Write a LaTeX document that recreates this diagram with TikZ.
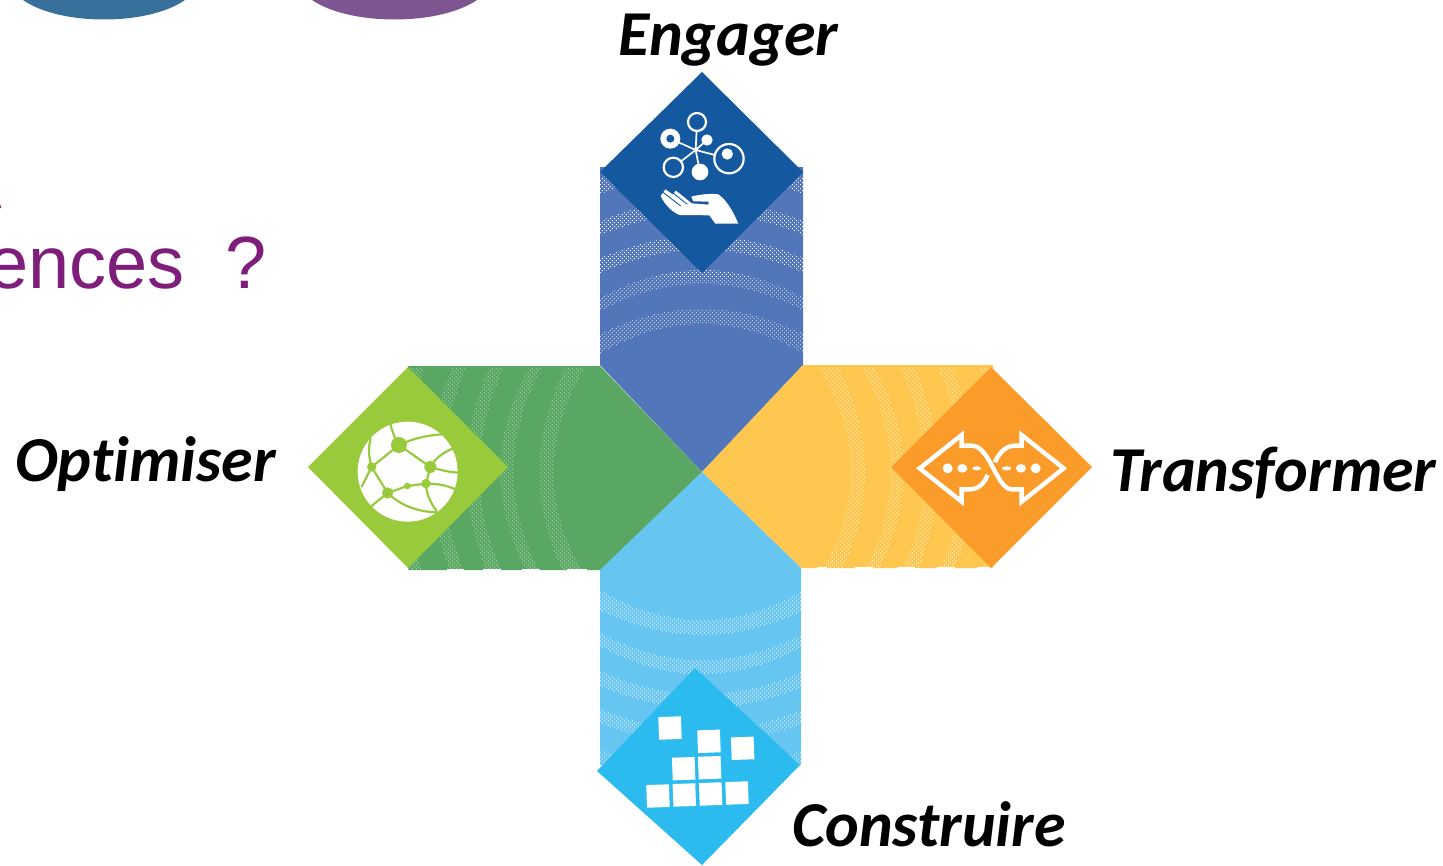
\documentclass[tikz,border=0pt]{standalone}
\usepackage{fontspec}
\setmainfont[Ligatures=NoCommon]{Carlito}
\newfontfamily\arialfont{Liberation Sans}
\usetikzlibrary{patterns.meta}
\definecolor{armBlue}{HTML}{5276BA}
\definecolor{armGreen}{HTML}{59A762}
\definecolor{armYellow}{HTML}{FFC750}
\definecolor{armSky}{HTML}{66C6F1}
\definecolor{tipBlue}{HTML}{1458A0}
\definecolor{tipGreen}{HTML}{99CA3C}
\definecolor{tipOrange}{HTML}{FA9B2A}
\definecolor{tipCyan}{HTML}{2BBBEE}
\definecolor{titlePurple}{HTML}{7F1D7A}
\definecolor{discTeal}{HTML}{36709B}
\definecolor{discPurple}{HTML}{7D5591}
\tikzset{
  lbl/.style={font=\bfseries\itshape\fontsize{64}{64}\selectfont,anchor=base west,inner sep=0pt,text=black},
  zoomA/.style={shift={(590,60)},x=.3333pt,y=-.3333pt},
  zoomB/.style={shift={(300,355)},x=.3333pt,y=-.3333pt},
  zoomC/.style={shift={(795,355)},x=.3333pt,y=-.3333pt},
  zoomD/.style={shift={(590,660)},x=.3333pt,y=-.3333pt},
  bandfill/.style={pattern={Dots[distance=2.83pt,radius=.6pt,angle=45]},pattern color=white},
}
\newcommand{\armshape}[3]{%
  \fill[#1] #3 -- cycle;
  \begin{scope}
    \clip #3 -- cycle;
    \begin{scope}[shift={(702,472)},rotate=#2]
      \foreach \eo/\co/\ei/\ci in {137/171.7/117/158.3,173/211.7/160/197.3,213/243.7/198/230,250/279.3/236/265.3,293/322.3/277/305}{
        \path[bandfill] (-104,-\eo) .. controls (-35,-\co) and (35,-\co) .. (104,-\eo)
          -- (104,-\ei) .. controls (35,-\ci) and (-35,-\ci) .. (-104,-\ei) -- cycle;
      }
    \end{scope}
  \end{scope}}
\begin{document}
\begin{tikzpicture}[x=1pt,y=-1pt]
\useasboundingbox (0,0) rectangle (1443,865);
\fill[white] (0,0) rectangle (1443,865);
% discs cut by the top edge
\fill[discTeal] (23,0) .. controls (60,26) and (148,26) .. (185,0) -- cycle;
\fill[discPurple] (312,0) .. controls (350,26) and (439,26) .. (477,0) -- cycle;
% title fragment
\node[font=\arialfont\fontsize{74}{74}\selectfont,text=titlePurple,anchor=base east,inner sep=0pt] (title) at (267,288) {ences\ \ ?};
\fill[titlePurple] (0,204) -- (1,207) -- (1,208) -- (0,208) -- cycle;

% arms
\armshape{armBlue}{0}{(600,167) -- (803,167) -- (803,365) -- (702,472) -- (600,365)}
\armshape{armGreen}{90}{(408,366) -- (600,366) -- (702,472) -- (601,570) -- (408,570)}
\armshape{armYellow}{-90}{(993,365) -- (803,365) -- (702,472) -- (801,568) -- (993,568)}
\armshape{armSky}{180}{(600,570) -- (702,472) -- (801,568) -- (801,765) -- (600,765)}
% gaps along lower edges
\foreach \a/\b in {447/464,483/501,522/540,567/587}{\fill[white] (\a,569.2) rectangle (\b,571);}
\foreach \a/\b in {817/827,855/873,897/915,937/954,977/990}{\fill[white] (\a,566.8) rectangle (\b,569);}

% tips
\fill[tipBlue] (702,72) -- (803,172) -- (702,273) -- (600,172) -- cycle;
\fill[tipGreen] (308,467) -- (408,367) -- (508,467) -- (408,568) -- cycle;
\fill[tipOrange] (891,467) -- (991,367) -- (1092,467) -- (991,568) -- cycle;
\fill[tipCyan] (695,668) -- (800,765) -- (702,865) -- (597,771) -- cycle;

% blue icon
\begin{scope}[zoomA]
  \draw[white,line width=1.7pt] (317,270) -- (321,186) (317,270) -- (241,236) (317,270) -- (351,240)
     (317,270) -- (417,296) (317,270) -- (250,322) (317,270) -- (330,336);
  \fill[tipBlue] (321,186) circle (24) (250,322) circle (26) (417,296) circle (42);
  \draw[white,line width=2.2pt] (321,186) circle (27) (250,322) circle (29) (417,296) circle (44);
  \fill[white] (241,236) circle (30);
  \fill[tipBlue] (241,236) circle (12);
  \fill[white] (351,240) circle (17) (412,282) circle (17) (330,336) circle (25);
  \fill[white] (445,491) -- (376,491) -- (358,466) -- (268,465) .. controls (245,455) and (225,435) .. (212,408)
     -- (226,388) -- (248,403) -- (258,392) -- (305,430) -- (355,434) -- (356,425) -- (310,424) -- (304,410)
     .. controls (330,403) and (360,400) .. (385,403) .. controls (410,420) and (430,455) .. (445,491) -- cycle;
  \draw[tipBlue,line width=.9pt] (218,396) -- (272,438) (240,392) -- (292,433);
\end{scope}

% green icon
\begin{scope}[zoomB]
  \fill[white] (323,350) circle (150);
  \draw[tipGreen,line width=2.2pt,line cap=round]
    (297,270) -- (391,336)
    (297,270) -- (215,336)
    (215,336) -- (263,414)
    (263,414) -- (322,393) -- (378,386) -- (391,336)
    (297,270) .. controls (340,250) and (385,240) .. (428,238)
    (391,336) .. controls (405,310) and (430,292) .. (460,280)
    (391,336) .. controls (420,345) and (450,352) .. (476,353)
    (378,386) .. controls (410,385) and (445,392) .. (470,405)
    (378,386) .. controls (378,415) and (392,445) .. (410,468)
    (263,414) .. controls (300,450) and (350,470) .. (408,472)
    (263,414) -- (212,455)
    (297,270) .. controls (285,250) and (275,230) .. (272,205)
    (215,336) .. controls (205,300) and (205,280) .. (212,250)
    (215,336) -- (185,395);
  \fill[tipGreen] (297,270) circle (24) (391,336) circle (18) (215,336) circle (14)
    (378,386) circle (14) (322,393) circle (10) (263,414) circle (17);
\end{scope}

% orange icon
\begin{scope}[zoomC]
  \draw[white,line width=4.4pt,line join=miter]
    (600,322) .. controls (615,285) and (640,272) .. (660,272) -- (680,272) -- (680,240) -- (806,340) -- (680,440) -- (680,403) -- (650,403)
       .. controls (605,403) and (585,272) .. (530,272) -- (500,272) -- (500,240) -- (374,340) -- (500,440) -- (500,403) -- (525,403)
       .. controls (550,403) and (568,385) .. (578,360);
  \fill[white] (458,340) circle (15) (502,340) ellipse (15 and 13) (545,340) ellipse (13 and 6)
    (635,340) ellipse (14 and 6) (678,340) ellipse (15 and 13) (722,340) circle (15);
\end{scope}

% cyan icon
\begin{scope}[zoomD]
  \foreach \cx/\cy in {240/204,357/244,458/265,281/326,359/323,204/408,283/405,362/402,441/399}{
    \fill[white,shift={(\cx,\cy)},rotate=2] (-34,-34) rectangle (34,34);
  }
\end{scope}

% labels
\node[lbl] (engager) at (618,55) {Engager};
\node[lbl] (optimiser) at (15,481) {Optimiser};
\node[lbl] (transformer) at (1110,491) {Transformer};
\node[lbl] (construire) at (792,846) {Construire};
\end{tikzpicture}
\end{document}
